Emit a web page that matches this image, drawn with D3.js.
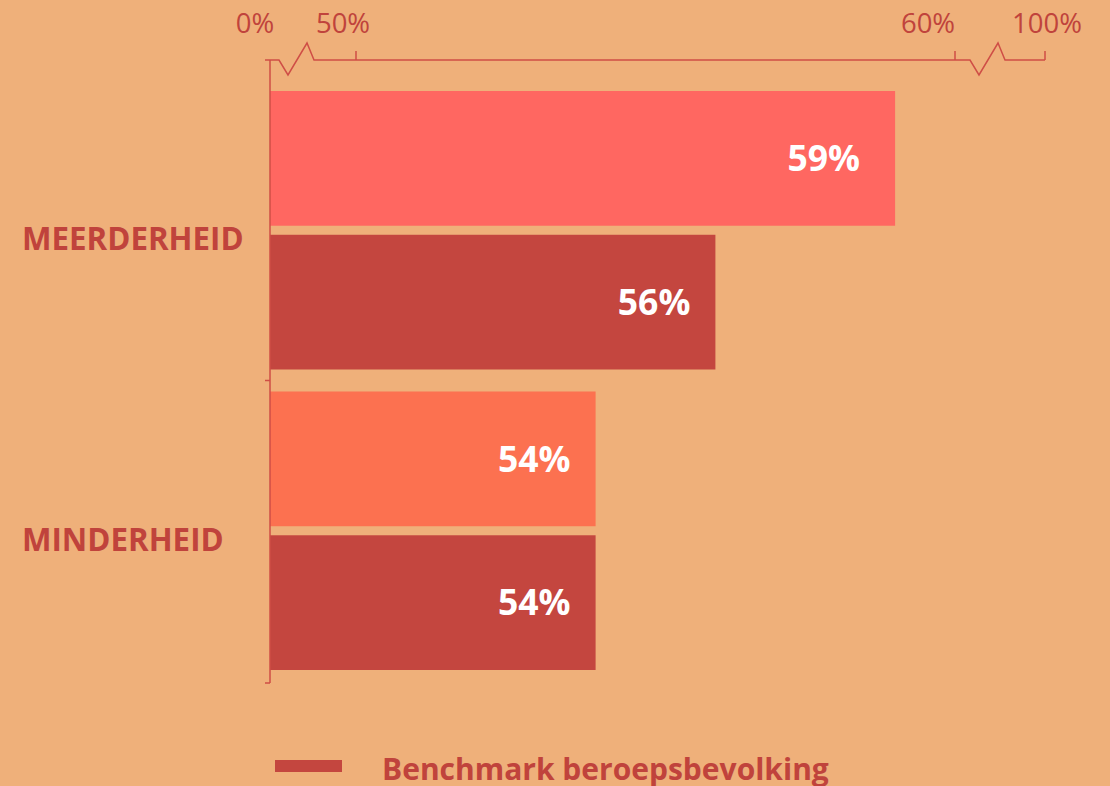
<!DOCTYPE html>
<html>
<head>
<meta charset="utf-8">
<script src="https://cdn.jsdelivr.net/npm/d3@7"></script>
<style>
  html, body { margin: 0; padding: 0; background: #EFB07A; }
  svg { display: block; font-family: 'Open Sans', 'Noto Sans', sans-serif; }
</style>
</head>
<body>
<svg id="chart" width="1110" height="786"></svg>
<script>
const categories = ['MEERDERHEID', 'MINDERHEID'];
const series = ['Groep', 'Benchmark beroepsbevolking'];
const groupValues = [59, 54];
const benchmarkValues = [56, 54];
const tickValues = [0, 50, 60, 100];
const tickLabels = ['0%', '50%', '60%', '100%'];

const groupColors = ['#FF6761', '#FC7150'];
const benchColor = '#C4463F';
const textColor = '#C0433C';
const axisColor = '#CF4E46';

const svg = d3.select('#chart');

// broken axis: 0 | 50..60 | 100
const x = d3.scaleLinear().domain([0, 50, 60, 100]).range([270, 356, 955, 1045]);
const y = d3.scaleBand().domain(categories).range([80, 681]);
const ySub = d3.scaleBand().domain(series).range([11, y.bandwidth() - 11]).paddingInner(0.063);

const rows = categories.map((c, i) => ({
  cat: c,
  bars: [
    { key: series[0], value: groupValues[i], color: groupColors[i] },
    { key: series[1], value: benchmarkValues[i], color: benchColor }
  ]
}));

const g = svg.selectAll('.row').data(rows).enter().append('g')
  .attr('class', 'row')
  .attr('transform', d => `translate(0, ${y(d.cat)})`);

g.selectAll('rect').data(d => d.bars).enter().append('rect')
  .attr('x', x(0))
  .attr('y', d => ySub(d.key))
  .attr('width', d => x(d.value) - x(0))
  .attr('height', ySub.bandwidth())
  .attr('fill', d => d.color);

g.selectAll('.val').data(d => d.bars).enter().append('text')
  .attr('class', 'val')
  .attr('x', d => x(d.value) - (d.value > 58 ? 35 : 25))
  .attr('y', d => ySub(d.key) + ySub.bandwidth() / 2)
  .attr('dy', '0.36em')
  .attr('text-anchor', 'end')
  .attr('fill', '#fff')
  .attr('font-weight', 700)
  .attr('font-size', 35.5)
  .text(d => d.value + '%');

// category labels
svg.selectAll('.cat').data(categories).enter().append('text')
  .attr('class', 'cat')
  .attr('x', 22)
  .attr('y', d => y(d) + y.bandwidth() / 2 + 20)
  .attr('fill', textColor)
  .attr('font-weight', 700)
  .attr('font-size', 31.3)
  .text(d => d);

// vertical axis with small ticks at band edges
const axisY0 = 60, axisY1 = 683;
svg.append('line')
  .attr('x1', x(0)).attr('x2', x(0))
  .attr('y1', axisY0).attr('y2', axisY1)
  .attr('stroke', axisColor).attr('stroke-width', 1.5);
const edges = [axisY0, y(categories[1]), axisY1];
svg.selectAll('.ytick').data(edges).enter().append('line')
  .attr('x1', x(0) - 5).attr('x2', x(0))
  .attr('y1', d => d).attr('y2', d => d)
  .attr('stroke', axisColor).attr('stroke-width', 1.5);

// top axis with zigzag breaks
const zig = (x0) => [[x0, axisY0], [x0 + 9, axisY0 + 15], [x0 + 28, axisY0 - 17], [x0 + 35, axisY0]];
const pts = [[x(0), axisY0]]
  .concat(zig(x(0) + 9))
  .concat([[x(60), axisY0]])
  .concat(zig(x(60) + 15))
  .concat([[x(100), axisY0]]);
svg.append('path')
  .attr('d', d3.line()(pts))
  .attr('fill', 'none')
  .attr('stroke', axisColor).attr('stroke-width', 1.5);

svg.selectAll('.xtick').data(tickValues.slice(1)).enter().append('line')
  .attr('x1', d => x(d)).attr('x2', d => x(d))
  .attr('y1', axisY0 - 9).attr('y2', axisY0)
  .attr('stroke', axisColor).attr('stroke-width', 1.5);

const labelShift = [-15, -13, -27, 2];
svg.selectAll('.xlab').data(tickValues).enter().append('text')
  .attr('x', (d, i) => x(d) + labelShift[i])
  .attr('y', 33)
  .attr('text-anchor', 'middle')
  .attr('fill', textColor)
  .attr('font-size', 27.5)
  .text((d, i) => tickLabels[i]);

// legend
svg.append('rect')
  .attr('x', 275).attr('y', 760)
  .attr('width', 67).attr('height', 12)
  .attr('fill', benchColor);
svg.append('text')
  .attr('x', 382).attr('y', 780)
  .attr('fill', textColor)
  .attr('font-weight', 700)
  .attr('font-size', 30)
  .text(series[1]);
</script>
</body>
</html>
